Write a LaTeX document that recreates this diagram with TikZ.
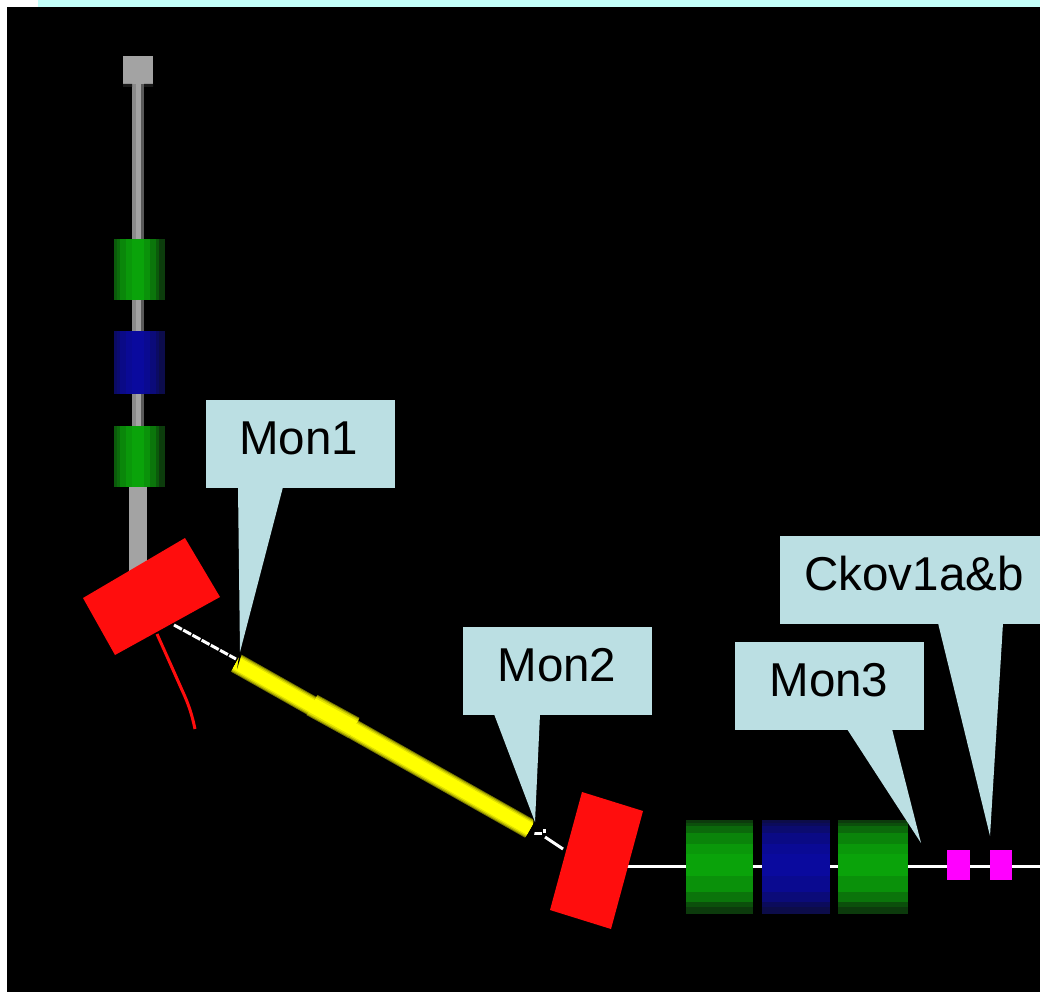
\documentclass[tikz,border=0pt]{standalone}
\usepackage{fontspec}
\setmainfont{Liberation Sans}
\newcommand{\vbands}[6]{% x0,x1,y0,y1,edge colour,centre colour : bands run vertically
  \foreach \a/\b/\m in {0/.06/35,.06/.12/50,.12/.24/75,.24/.35/90,.35/.59/100,.59/.71/85,.71/.82/60,.82/.88/35,.88/1/8}{
    \fill[#6!\m!#5] ({#1+\a*(#2-#1)},#3) rectangle ({#1+\b*(#2-#1)},#4);}}
\newcommand{\hbands}[6]{% same, bands run horizontally
  \foreach \a/\b/\m in {0/.03/6,.03/.06/25,.06/.14/48,.14/.26/72,.26/.36/90,.36/.6/100,.6/.77/84,.77/.87/58,.87/.93/25,.93/1/6}{
    \fill[#6!\m!#5] (#1,{#3+\a*(#4-#3)}) rectangle (#2,{#3+\b*(#4-#3)});}}
\definecolor{grn}{HTML}{0AA30A}\definecolor{grnd}{HTML}{0C330C}
\definecolor{blu}{HTML}{0A0A9E}\definecolor{blud}{HTML}{0C0C44}
\definecolor{redm}{HTML}{FF0D0D}\definecolor{yel}{HTML}{FFFF00}
\definecolor{yela}{HTML}{7A7A00}\definecolor{yelb}{HTML}{B4B400}\definecolor{yelc}{HTML}{E2E200}
\definecolor{call}{HTML}{BBDFE3}
\definecolor{cy}{HTML}{C4FFFA}\definecolor{gry}{HTML}{A3A3A3}\definecolor{mag}{HTML}{FF00FF}
\tikzset{
  callout/.style={fill=call,minimum width=189pt,minimum height=88pt,inner sep=0pt,anchor=north west},
  calltext/.style={font=\fontsize{47.5}{50}\selectfont,text=black,inner sep=0pt},
  tail/.style={fill=call},
  beamline/.style={white,line width=3pt},
  dashline/.style={white,line width=3pt,dash pattern=on 9pt off 1.5pt},
  magnet/.style={fill=redm},
  counter/.style={fill=mag}
}
\begin{document}
\begin{tikzpicture}[x=1pt,y=-1pt]
\useasboundingbox (0,0) rectangle (1040,992);
\fill[white] (0,0) rectangle (1040,992);
\fill[cy] (38,0) rectangle (1040,7);
\fill[black] (7,7) rectangle (1040,992);
% vertical beam pipe
\fill[gry!85!black] (132,84) rectangle (136,490);
\fill[gry] (136,84) rectangle (141,490);
\fill[gry!55!black] (141,84) rectangle (144,490);
\fill[gry] (129,486) rectangle (147,580);
\fill[gry] (123,56) rectangle (153,84);
\fill[black!90!white] (123,84) rectangle (132,87) (144,84) rectangle (153,87);
\vbands{114}{165}{239}{300}{grnd}{grn}
\vbands{114}{165}{331}{394}{blud}{blu}
\vbands{114}{165}{426}{487}{grnd}{grn}
% first bend
\draw[redm,line width=3pt] (157,634) -- (170,663) -- (182,690) .. controls (189,705) and (192,715) .. (195,729);
\fill[magnet] (185,538) -- (220,597) -- (115,655) -- (83,598) -- cycle;
\draw[dashline] (174,625) -- (236,659);
% yellow pipe
\coordinate (ya) at (236,663);
\coordinate (yb) at (530,829);
\coordinate (ta) at (312,705);
\coordinate (tb) at (354,728);
\foreach \w/\c in {20/yela,18/yelb,15.5/yelc,12.5/yel}{\draw[\c,line width=\w pt] (ya) -- (yb);}
\foreach \w/\c in {23/yela,21/yelb,18.5/yelc,15/yel}{\draw[\c,line width=\w pt] (ta) -- (tb);}
\draw[yel,line width=12.5pt] (ya) -- (yb);
% second bend
\draw[beamline] (534,833) -- (542,833);
\fill[white] (542.5,829) rectangle (546,832.5);
\draw[beamline] (545,837) -- (563,849);
\draw[beamline] (620,866.5) -- (1040,866.5);
\fill[magnet] (582,792) -- (643,811) -- (611,929) -- (550,910) -- cycle;
\hbands{686}{753}{820}{914}{grnd}{grn}
\hbands{762}{830}{820}{914}{blud}{blu}
\hbands{838}{908}{820}{914}{grnd}{grn}
\fill[counter] (947,850) rectangle (970,880);
\fill[counter] (990,850) rectangle (1012,880);
% callouts
\node[callout] (mon1) at (206,400) {};
\node[calltext] (mon1t) at (298.5,438) {Mon1};
\coordinate (tip1) at (240,652);
\fill[black] (240,650) -- (237,669) -- (243,650) -- cycle;
\fill[tail] (238,487) -- (tip1) -- (283,487) -- cycle;
\node[callout] (mon2) at (463,627) {};
\node[calltext] (mon2t) at (557,665) {Mon2};
\coordinate (tip2) at (535,822);
\fill[black] (533,815) -- (534,835) -- (538,815) -- cycle;
\fill[tail] (494,714) -- (tip2) -- (540,714) -- cycle;
\node[callout] (mon3) at (735,642) {};
\node[calltext] (mon3t) at (829,680) {Mon3};
\coordinate (tip3) at (921,843);
\fill[tail] (847,729) -- (tip3) -- (892,729) -- cycle;
\node[callout,minimum width=260pt] (ckov) at (780,536) {};
\node[calltext] (ckovt) at (914,574) {Ckov1a\&b};
\coordinate (tip4) at (990,836);
\fill[tail] (938,623) -- (tip4) -- (1003,623) -- cycle;
\end{tikzpicture}
\end{document}
